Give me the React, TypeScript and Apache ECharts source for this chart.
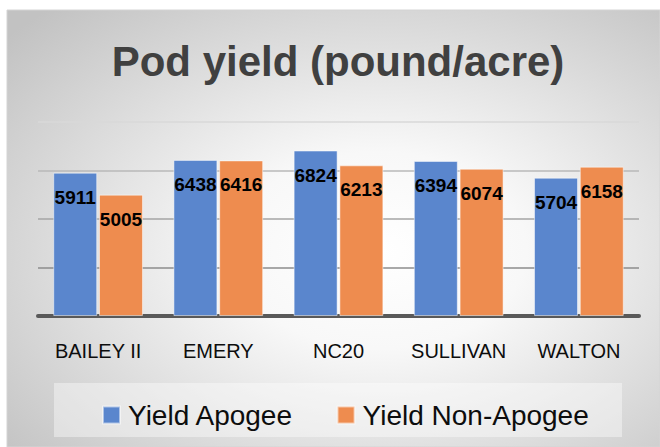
import React, { useEffect, useRef } from "react";
import * as echarts from "echarts";

const categories = ["BAILEY II", "EMERY", "NC20", "SULLIVAN", "WALTON"];
const yieldApogee = [5911, 6438, 6824, 6394, 5704];
const yieldNonApogee = [5005, 6416, 6213, 6074, 6158];
const seriesNames = ["Yield Apogee", "Yield Non-Apogee"];
const titleText = "Pod yield (pound/acre)";

const FONT = "'Liberation Sans', Arial, sans-serif";

export default function App() {
  const ref = useRef<HTMLDivElement>(null);
  useEffect(() => {
    if (!ref.current) return;
    const chart = echarts.init(ref.current, undefined, { renderer: "svg" });
    const labelCfg = {
      show: true,
      position: "insideTop",
      distance: 15,
      fontSize: 19,
      fontWeight: "bold",
      color: "#000",
      fontFamily: FONT,
    };
    chart.setOption({
      animation: false,
      graphic: [
        {
          type: "rect",
          z: -10,
          shape: { x: 7, y: 10, width: 653, height: 437 },
          style: {
            fill: new echarts.graphic.RadialGradient(0.57, 0.55, 0.75, [
              { offset: 0, color: "#ffffff" },
              { offset: 0.3, color: "#f8f8f8" },
              { offset: 1, color: "#c2c2c2" },
            ]),
            stroke: "#d4d4d4",
            lineWidth: 1,
          },
        },
        {
          type: "rect",
          z: -9,
          shape: { x: 54, y: 383, width: 568, height: 54 },
          style: { fill: "rgba(255,255,255,0.4)" },
        },
        {
          type: "text",
          x: 338,
          y: 61,
          style: {
            text: titleText,
            fontSize: 42,
            fontWeight: "bold",
            fontFamily: FONT,
            fill: "#404040",
            align: "center",
            verticalAlign: "middle",
          },
        },
      ],
      legend: {
        data: seriesNames,
        left: 97,
        top: 396,
        itemWidth: 17,
        itemHeight: 17,
        itemGap: 43,
        icon: "rect",
        textStyle: {
          fontSize: 28,
          color: "#0d0d0d",
          fontFamily: FONT,
          padding: [0, 0, 0, 3],
        },
      },
      grid: { left: 38, right: 21, top: 122, bottom: 131, containLabel: false },
      xAxis: {
        type: "category",
        data: categories,
        axisLine: { lineStyle: { color: "#595959", width: 4 } },
        axisTick: { show: false },
        axisLabel: {
          interval: 0,
          fontSize: 20,
          color: "#0d0d0d",
          margin: 25,
          fontFamily: FONT,
        },
      },
      yAxis: {
        type: "value",
        min: 0,
        max: 8000,
        interval: 2000,
        axisLabel: { show: false },
        axisLine: { show: false },
        axisTick: { show: false },
        splitLine: {
          lineStyle: {
            color: ["#595959", "#8c8c8c", "#a4a4a4", "#b8b8b8", "#d8d8d8"],
            width: 1.5,
          },
        },
      },
      series: [
        {
          name: seriesNames[0],
          type: "bar",
          data: yieldApogee,
          barWidth: 44,
          barGap: "4%",
          itemStyle: {
            color: "#5a86cd",
            borderColor: "rgba(255,255,255,0.5)",
            borderWidth: 1,
          },
          label: labelCfg,
        },
        {
          name: seriesNames[1],
          type: "bar",
          data: yieldNonApogee,
          barWidth: 44,
          barGap: "4%",
          itemStyle: {
            color: "#ee8c4f",
            borderColor: "rgba(255,255,255,0.5)",
            borderWidth: 1,
          },
          label: labelCfg,
        },
      ],
    });
    return () => chart.dispose();
  }, []);
  return (
    <div
      ref={ref}
      style={{ position: "absolute", left: 0, top: 0, width: 660, height: 447 }}
    />
  );
}
